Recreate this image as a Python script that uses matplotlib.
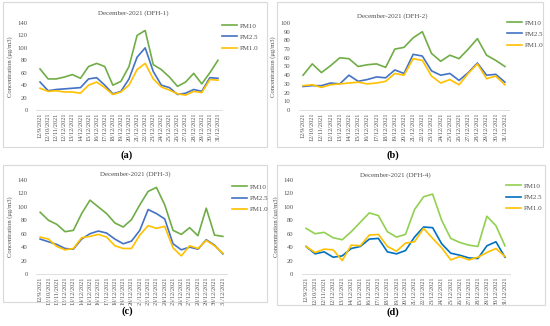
import matplotlib
matplotlib.use("Agg")
import matplotlib.pyplot as plt
from matplotlib.patches import Rectangle

plt.rcParams['font.family'] = ['Liberation Serif', 'DejaVu Serif']

dates = ["12/9/2021", "12/10/2021", "12/11/2021", "12/12/2021", "13/12/2021", "14/12/2021",
         "15/12/2021", "16/12/2021", "17/12/2021", "18/12/2021", "19/12/2021", "20/12/2021",
         "21/12/2021", "22/12/2021", "23/12/2021", "24/12/2021", "25/12/2021", "26/12/2021",
         "27/12/2021", "28/12/2021", "29/12/2021", "30/12/2021", "31/12/2021"]

pm10_a = [66, 50, 50, 53, 57, 51, 70, 75, 70, 40, 46, 70, 120, 128, 73, 65, 53, 38, 45, 59, 42, 60, 80]
pm25_a = [45, 31, 33, 34, 35, 36, 50, 52, 40, 26, 30, 50, 85, 100, 62, 40, 36, 25, 27, 33, 30, 52, 51]
pm1_a = [35, 30, 31, 29, 29, 27, 40, 45, 36, 25, 29, 40, 65, 75, 50, 37, 32, 26, 24, 30, 28, 49, 48]

pm10_b = [40, 53, 43, 51, 60, 59, 50, 52, 53, 49, 70, 72, 83, 90, 65, 56, 63, 59, 70, 82, 63, 57, 50]
pm25_b = [27, 28, 28, 31, 30, 40, 33, 35, 38, 37, 46, 42, 64, 62, 45, 40, 42, 34, 43, 54, 40, 41, 32]
pm1_b = [28, 29, 26, 29, 30, 31, 32, 30, 31, 33, 42, 40, 59, 57, 39, 31, 35, 29, 42, 53, 36, 39, 29]

pm10_c = [92, 80, 74, 63, 65, 90, 110, 100, 90, 76, 70, 81, 103, 123, 129, 103, 65, 59, 69, 57, 98, 58, 56]
pm25_c = [52, 48, 44, 38, 37, 52, 60, 64, 61, 52, 45, 49, 65, 96, 90, 82, 45, 36, 40, 37, 51, 43, 30]
pm1_c = [55, 52, 41, 36, 38, 54, 56, 59, 55, 42, 38, 38, 58, 72, 68, 71, 39, 27, 42, 38, 50, 42, 31]

pm10_d = [68, 60, 62, 54, 51, 63, 77, 91, 87, 63, 55, 59, 96, 115, 119, 80, 53, 47, 43, 41, 86, 72, 42]
pm25_d = [41, 30, 33, 25, 27, 38, 41, 52, 53, 33, 30, 35, 55, 70, 69, 45, 31, 28, 24, 23, 42, 48, 25]
pm1_d = [41, 32, 37, 36, 20, 43, 42, 58, 59, 41, 34, 46, 48, 68, 53, 39, 21, 26, 21, 25, 32, 38, 26]

W, H = 550, 326
fig = plt.figure(figsize=(5.5, 3.26), dpi=100)
fig.patch.set_facecolor('white')

def box(x0, y0, x1, y1):
    fig.patches.append(Rectangle((x0 / W, 1 - y1 / H), (x1 - x0) / W, (y1 - y0) / H,
                                 transform=fig.transFigure, fill=False,
                                 edgecolor='#d9d9d9', linewidth=0.8))

box(3, 2, 267, 147)
box(277, 2, 543, 147)
box(3, 165, 267, 302)
box(277, 165, 545, 305)

txtc = '#505050'

def panel(left, right, y0px, ytop_px, ymax, ystep, title, tpos, s10, s25, s1, cols, legpos, letter, lpos):
    ax = fig.add_axes([left / W, 1 - y0px / H, (right - left) / W, (y0px - ytop_px) / H])
    x = list(range(len(dates)))
    l1, = ax.plot(x, s10, color=cols[0], lw=1.2, label='PM10')
    l2, = ax.plot(x, s25, color=cols[1], lw=1.2, label='PM2.5')
    l3, = ax.plot(x, s1, color=cols[2], lw=1.2, label='PM1.0')
    ax.set_xlim(-0.5, len(dates) - 0.5)
    ax.set_ylim(0, ymax)
    ax.set_yticks(range(0, ymax + 1, ystep))
    ax.set_xticks(x)
    ax.set_xticklabels(dates, rotation=90, fontsize=4.4, color=txtc)
    ax.tick_params(axis='y', labelsize=4.8, colors=txtc, length=0, pad=6)
    ax.tick_params(axis='x', length=0, pad=2)
    for s in ['top', 'right', 'left']:
        ax.spines[s].set_visible(False)
    ax.spines['bottom'].set_color('#d9d9d9')
    ax.spines['bottom'].set_linewidth(0.6)
    ax.patch.set_alpha(0)
    ax.set_ylabel('Concentration (μg/m3)', fontsize=4.8, color=txtc, labelpad=3)
    fig.text(tpos[0] / W, 1 - tpos[1] / H, title, fontsize=5, color=txtc, ha='center', va='center')
    fig.legend(handles=[l1, l2, l3], loc='upper left',
               bbox_to_anchor=(legpos[0] / W, 1 - legpos[1] / H), frameon=False,
               fontsize=5, handlelength=2.2, handletextpad=0.4, labelspacing=0.75,
               borderaxespad=0, borderpad=0, labelcolor=txtc)
    fig.text(lpos[0] / W, 1 - lpos[1] / H, letter, fontsize=7.5, fontweight='bold',
             ha='center', va='center', color='black')
    return ax

green, blue, gold = '#70AD47', '#4472C4', '#FFC000'
panel(36, 222, 110, 23, 140, 20, 'December-2021 (DFH-1)', (133, 13),
      pm10_a, pm25_a, pm1_a, (green, blue, gold), (222, 23), '(a)', (127, 155))
panel(298.5, 509.5, 110, 23, 100, 10, 'December-2021 (DFH-2)', (392, 16),
      pm10_b, pm25_b, pm1_b, (green, blue, gold), (507, 20), '(b)', (393, 155))
panel(36, 227, 274, 180, 140, 20, 'December-2021 (DFH-3)', (135, 174),
      pm10_c, pm25_c, pm1_c, (green, blue, gold), (232, 184), '(c)', (127, 311))
panel(301.5, 509.5, 274, 180, 140, 20, 'December-2021 (DFH-4)', (395, 175),
      pm10_d, pm25_d, pm1_d, ('#92D050', '#0070C0', gold), (506, 183), '(d)', (393, 312))

fig.savefig('out.png', dpi=100, facecolor='white')
